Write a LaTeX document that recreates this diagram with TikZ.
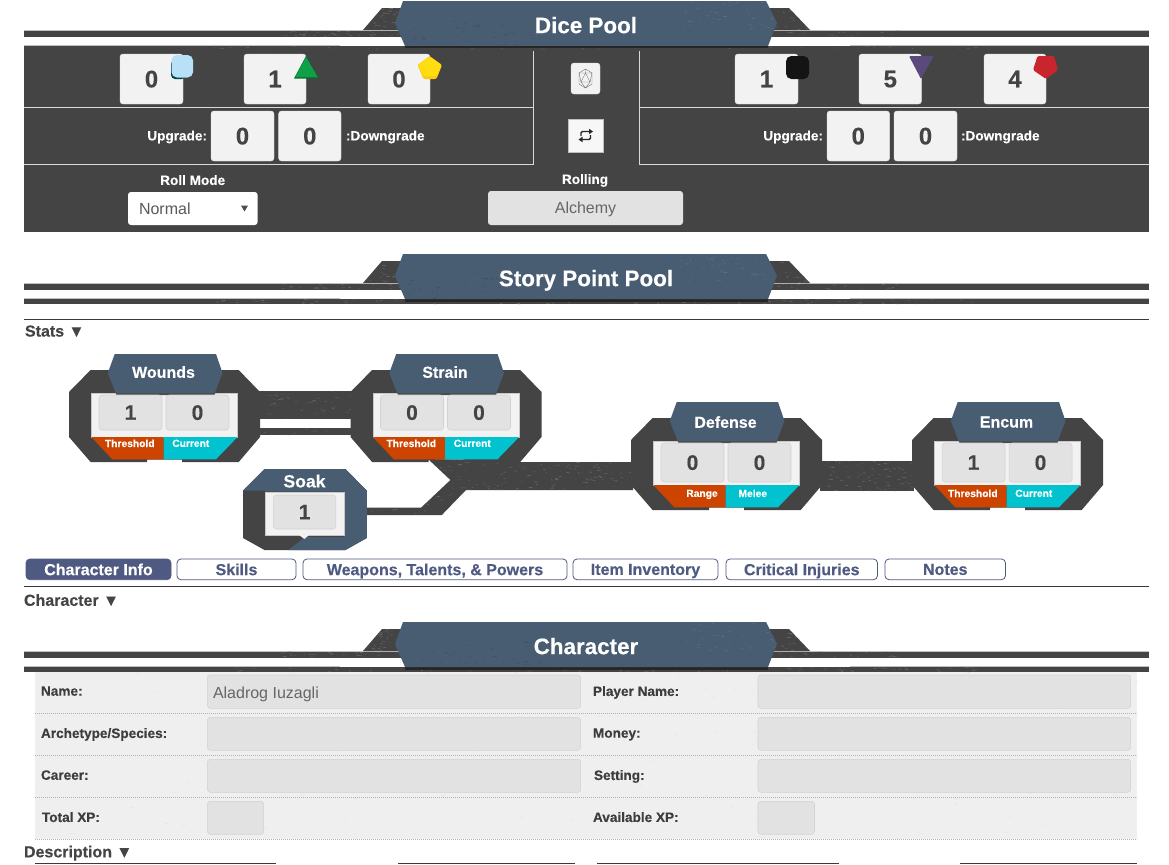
\documentclass[tikz,border=0pt]{standalone}
\usepackage{fontspec}
\setmainfont{Liberation Sans}[BoldFeatures={FakeBold=0.25}]
\definecolor{panel}{HTML}{444444}
\definecolor{slate}{HTML}{485C72}
\definecolor{btn}{HTML}{F2F2F2}
\definecolor{inp}{HTML}{E2E2E2}
\definecolor{inpb}{HTML}{D2D2D2}
\definecolor{rust}{HTML}{CC4400}
\definecolor{teal}{HTML}{00C3CF}
\definecolor{tabc}{HTML}{4F5A82}
\definecolor{txt}{HTML}{444444}
\definecolor{formbg}{HTML}{EFEFEF}
\definecolor{grunge}{HTML}{8E8E8E}
\definecolor{dieblue}{HTML}{B8E0F6}
\definecolor{diegreen}{HTML}{10A048}
\definecolor{dieyellow}{HTML}{FFDD11}
\definecolor{diepurple}{HTML}{5A4A7C}
\definecolor{diered}{HTML}{C9252D}
\usetikzlibrary{calc}
\newcommand{\pxf}[1]{\fontsize{#1}{#1}\selectfont}
\tikzset{
  x=.75pt,y=-.75pt,
  plain/.style={inner sep=0pt,outer sep=0pt,text depth=0pt},
  numbox/.style={plain,rounded corners=2.2pt,fill=btn,draw=btn!92!black,line width=.3pt,text=txt,font=\bfseries\pxf{18}},
  statbox/.style={plain,rounded corners=2.2pt,fill=inp,draw=inpb,line width=.4pt,text=txt,font=\bfseries\pxf{15.75}},
  field/.style={plain,rounded corners=2.2pt,fill=inp,draw=inpb,line width=.4pt},
  tabbox/.style={plain,rounded corners=3pt,draw=tabc,line width=.6pt,fill=white,text=tabc,font=\bfseries\pxf{12}},
  small/.style={plain,text=white,font=\bfseries\pxf{10.2}},
  tiny/.style={plain,text=white,font=\bfseries\pxf{7.7}},
  head/.style={plain,text=white,font=\bfseries\pxf{12}},
  sect/.style={plain,anchor=west,text=txt,font=\bfseries\pxf{12}},
  flabel/.style={plain,anchor=west,text=txt!90!black,font=\bfseries\pxf{10.2}},
  rule/.style={line width=.75pt,draw=panel!85!black},
  dots/.style={line width=.4pt,draw=black!30,dash pattern=on .6pt off .9pt},
}
% rectangle node given by pixel corners
\newcommand{\bx}[7]{\node[#1,minimum width=(#5-#3)*.75pt,minimum height=(#6-#4)*.75pt] (#2) at ({(#3+#5)/2},{(#4+#6)/2}) {#7};}
% random grunge marks
\newcommand{\speckle}[6]{%
  \foreach \i in {1,...,#5}{%
    \pgfmathsetmacro\sx{#1+rnd*(#3-#1)}%
    \pgfmathsetmacro\sy{#2+rnd*(#4-#2)}%
    \pgfmathsetmacro\sl{1+rnd*3}%
    \pgfmathsetmacro\so{.12+rnd*.4}%
    \draw[#6,line width=.5pt,opacity=\so] (\sx,\sy) -- ++(\sl,.6*rnd);
  }}
\newcommand{\banner}[3]{%
\begin{scope}[shift={(0,#1)}]
  \fill[black!25] (24,29.5) rectangle (1149,31);
  \fill[panel] (24,31) rectangle (1149,37);
  \fill[black!25] (24,45) rectangle (1149,46.3);
  \fill[panel] (24,46.3) rectangle (1149,51);
  \fill[panel] (363,30) -- (382,8) -- (789,8) -- (810,30) -- cycle;
  \begin{scope}
    \clip (363,30) -- (382,8) -- (789,8) -- (810,30) -- (900,30) -- (900,37) -- (280,37) -- (280,30) -- cycle;
    \speckle{280}{8}{400}{37}{150}{grunge}
    \speckle{775}{8}{900}{37}{90}{grunge}
  \end{scope}
  \speckle{200}{46}{980}{51}{90}{grunge}
  \fill[white] (340,37) rectangle (850,45.5);
  \fill[black!85] (405,46) rectangle (768,48.5);
  \fill[slate] (403,1) -- (395,23) -- (405,46) -- (768,46) -- (777,23) -- (766,1) -- cycle;
  \begin{scope}
    \clip (403,1) -- (395,23) -- (405,46) -- (768,46) -- (777,23) -- (766,1) -- cycle;
    \speckle{400}{20}{540}{45}{40}{slate!70!black}
    \speckle{680}{2}{775}{30}{50}{slate!75!white}
  \end{scope}
  \node[plain,text=white,font=\bfseries\pxf{16.8}] (#2) at (586,25) {#3};
\end{scope}}
% stat block: #1 name prefix, #2,#3 offset, #4 title, #5,#6 values, #7,#8 captions, #9 x of the first caption
\newcommand{\statdy}{0}
\newcommand{\stat}[9]{%
\begin{scope}[shift={(#2,#3)}]
  \fill[panel,even odd rule] (90.6,370) -- (238.7,370) -- (260,392) -- (260,437) -- (238.7,462) -- (182,462) -- (182,459.5) -- (147,459.5) -- (147,462) -- (90.6,462) -- (69,437) -- (69,392) -- cycle;
  \fill[btn,draw=black!22,line width=.4pt] (91.3,393) rectangle (237.6,437);
  \fill[rust] (91.3,437) -- (163.6,437) -- (163.6,459.3) -- (112.3,459.3) -- cycle;
  \fill[teal] (163.6,437) -- (237.6,437) -- (216,459.3) -- (163.6,459.3) -- cycle;
  \fill[black!70] (110,377) -- (116.5,395) -- (214.5,395) -- (221,377) -- cycle;
  \fill[slate] (114.7,354) -- (216,354) -- (222.5,373) -- (214.6,393) -- (115.7,393) -- (107.8,373) -- cycle;
  \node[head] (#1t) at (163.5,372+\statdy) {#4};
  \bx{statbox}{#1a}{99}{395+\statdy}{162}{430+\statdy}{#5}
  \bx{statbox}{#1b}{166}{395+\statdy}{229}{430+\statdy}{#6}
  \node[tiny] (#1c) at (#9,443.3+\statdy) {#7};
  \node[tiny] (#1d) at (190.8,443.3+\statdy) {#8};
\end{scope}}
\begin{document}
\begin{tikzpicture}
\useasboundingbox (0,0) rectangle (1169,864);
\fill[white] (0,0) rectangle (1169,864);
\pgfmathsetseed{4242}

% ---------- Dice pool
\banner{0}{dicetitle}{Dice Pool}
\fill[panel] (24,46) rectangle (1149,232);
\speckle{200}{46}{980}{49}{40}{grunge}
\draw[white!85!black,line width=.75pt] (24,107) -- (533,107) (533,51) -- (533,164) -- (24,164);
\draw[white!85!black,line width=.75pt] (1149,107) -- (639,107) (639,51) -- (639,164) -- (1149,164);
\fill[black!85] (405,46) rectangle (768,48);

\bx{numbox}{d1}{120}{54}{183}{104}{0}
\bx{numbox}{d2}{244}{54}{306}{104}{1}
\bx{numbox}{d3}{368}{54}{430}{104}{0}
\bx{numbox}{d4}{735}{54}{798}{104}{1}
\bx{numbox}{d5}{859}{54}{921.5}{104}{5}
\bx{numbox}{d6}{984}{54}{1046}{104}{4}
\bx{numbox}{u1}{211}{111}{274}{161}{0}
\bx{numbox}{u2}{278.6}{111}{341}{161}{0}
\bx{numbox}{u3}{827}{111}{889.6}{161}{0}
\bx{numbox}{u4}{894}{111}{957}{161}{0}
\node[small,anchor=east] (ul) at (207,135.5) {Upgrade:};
\node[small,anchor=west] (dl) at (346,135.5) {:Downgrade};
\node[small,anchor=east] (ur) at (823,135.5) {Upgrade:};
\node[small,anchor=west] (dr) at (961,135.5) {:Downgrade};

% dice
\fill[rounded corners=3pt,fill=teal!35!black] (171,60) rectangle (186,79);
\fill[rounded corners=4pt,fill=dieblue] (171.5,55) rectangle (193,77.5);
\fill[diegreen!70!black] (294,78.5) -- (306,56) -- (319,78.5) -- cycle;
\fill[diegreen] (295.5,77) -- (306,57) -- (317.5,77) -- cycle;
\fill[dieyellow!80!orange,rounded corners=1pt] (429.5,56) -- (442,65) -- (436.5,79) -- (423.5,79) -- (417.5,65) -- cycle;
\fill[dieyellow,rounded corners=1pt] (429.5,56.5) -- (441.5,65) -- (436.5,76) -- (423.5,76) -- (418,65) -- cycle;
\fill[black!92,rounded corners=4pt] (786,56) rectangle (809,79);
\fill[diepurple,rounded corners=.8pt] (909,56) -- (933.6,56) -- (921,79) -- cycle;
\fill[diered,rounded corners=1pt] (1037.5,56) -- (1054,56) -- (1058,70) -- (1046,79) -- (1033,70) -- cycle;

% centre buttons
\bx{numbox}{rollbtn}{571}{63}{600}{94}{}
\begin{scope}[line width=.3pt,draw=black!55]
  \draw (585.5,69) -- (592,73) -- (592,84) -- (585.5,88) -- (579,84) -- (579,73) -- cycle;
  \draw (585.5,73) -- (590,82) -- (581,82) -- cycle;
  \draw (585.5,69) -- (585.5,73) (592,73) -- (590,82) (579,73) -- (581,82) (585.5,88) -- (590,82) (585.5,88) -- (581,82) (579,73) -- (585.5,73) -- (592,73);
\end{scope}
\node[plain,fill=white!97!black,draw=black!25,line width=.3pt,minimum width=34.5*.75pt,minimum height=33*.75pt] (swapbtn) at (585.8,135.5) {};
\begin{scope}[line width=1.1pt,draw=black!85]
  \draw[rounded corners=1pt] (581,136) -- (581,131.5) -- (590,131.5);
  \draw[rounded corners=1pt] (590.5,135) -- (590.5,139.5) -- (581.5,139.5);
  \fill[black!85] (589,128.8) -- (593,131.5) -- (589,134.2) -- cycle;
  \fill[black!85] (582.5,136.8) -- (578.5,139.5) -- (582.5,142.2) -- cycle;
\end{scope}

\node[small] (rollmode) at (192.7,180) {Roll Mode};
\bx{plain,rounded corners=2.2pt,fill=white}{rollsel}{128}{192}{257.6}{225}{}
\node[plain,anchor=west,text=black!65,font=\pxf{12}] (normal) at (139,208.5) {Normal};
\fill[black!70] (241,205.5) -- (248,205.5) -- (244.5,211.5) -- cycle;
\node[small] (rolling) at (585,179) {Rolling};
\bx{plain,rounded corners=2.2pt,fill=inp,text=black!60,font=\pxf{12}}{alch}{488}{191}{683}{225}{Alchemy}

% ---------- Story pool
\banner{253}{storytitle}{Story Point Pool}
\draw[rule] (24,319) -- (1149,319);
\node[sect] (stats) at (25,331) {Stats ▼};

% connectors behind the blocks
\fill[panel] (258,391) rectangle (353,419);
\fill[panel] (258,428) rectangle (353,435);
\speckle{262}{391}{350}{419}{45}{grunge}
\speckle{262}{428}{350}{435}{10}{grunge}
\fill[panel] (428,459) -- (519,462) -- (633,462) -- (633,490) -- (466,490) -- (441.8,515) -- (366,515) -- (366,507.7) -- (421,507.7) -- (450.4,480) -- cycle;
\begin{scope}
  \clip (428,459) -- (519,462) -- (633,462) -- (633,490) -- (466,490) -- (441.8,515) -- (366,515) -- (366,507.7) -- (421,507.7) -- (450.4,480) -- cycle;
  \speckle{425}{459}{630}{490}{130}{grunge}
  \speckle{370}{490}{460}{515}{25}{grunge}
\end{scope}
\fill[panel] (820,461) rectangle (914,491);
\speckle{824}{461}{912}{491}{90}{grunge}

\stat{wo}{0}{0}{Wounds}{1}{0}{Threshold}{Current}{129.8}
\stat{st}{281.5}{0}{Strain}{0}{0}{Threshold}{Current}{129.8}
\renewcommand{\statdy}{2}
\stat{de}{562}{48}{Defense}{0}{0}{Range}{Melee}{140}
\stat{en}{843}{48}{Encum}{1}{0}{Threshold}{Current}{129.8}

% soak
\fill[panel] (264.5,469) -- (345.4,469) -- (366.8,490.7) -- (366.8,538) -- (345.4,550) -- (264.5,550) -- (243,538) -- (243,490.7) -- cycle;
\fill[slate] (243,490.7) -- (264.5,469) -- (345.4,469) -- (366.8,490.7) -- (366.8,538) -- (345.4,550) -- (288.6,550) -- (305,537) -- (344,537) -- (344,491.7) -- (265,491.7) -- (265,490.7) -- cycle;
\fill[btn,draw=black!22,line width=.3pt] (265,491.7) rectangle (344.4,535);
\fill[btn] (299,535) -- (309,535) -- (304.4,539) -- cycle;
\node[plain,text=white,font=\bfseries\pxf{13.2}] (soakt) at (304.5,481) {Soak};
\bx{statbox}{soakv}{273.4}{495}{335.8}{529}{1}

% ---------- Tabs
\bx{tabbox,fill=tabc,text=white}{tab1}{26}{559}{171}{579.7}{Character Info}
\bx{tabbox}{tab2}{177}{559}{296}{579.7}{Skills}
\bx{tabbox}{tab3}{303}{559}{567}{579.7}{Weapons, Talents, \& Powers}
\bx{tabbox}{tab4}{573}{559}{718}{579.7}{Item Inventory}
\bx{tabbox}{tab5}{726}{559}{877.5}{579.7}{Critical Injuries}
\bx{tabbox}{tab6}{885}{559}{1005.5}{579.7}{Notes}
\draw[rule] (24,586) -- (1149,586);
\node[sect] (charsec) at (24,600) {Character ▼};

% ---------- Character
\fill[formbg] (35,672) rectangle (1137,839.3);
\speckle{35}{672}{1137}{839}{260}{black!14}
\banner{621}{chartitle}{Character}
\foreach \yy in {713.3,755.3,797.3,839.3}{\draw[dots] (35,\yy) -- (1137,\yy);}

\bx{field}{fname}{207.4}{675}{580.6}{708.3}{}
\node[plain,anchor=west,text=black!60,font=\pxf{12}] (aname) at (213,692.3) {Aladrog Iuzagli};
\bx{field}{farch}{207.4}{717.3}{580.6}{750.3}{}
\bx{field}{fcareer}{207.4}{759.3}{580.6}{792.3}{}
\bx{field}{fxp}{207.4}{801.3}{263.7}{834.3}{}
\bx{field}{fplayer}{758}{675}{1130.7}{708.3}{}
\bx{field}{fmoney}{758}{717.3}{1130.7}{750.3}{}
\bx{field}{fset}{758}{759.3}{1130.7}{792.3}{}
\bx{field}{favail}{758}{801.3}{814.5}{834.3}{}
\node[flabel] (l1) at (41,691) {Name:};
\node[flabel] (l2) at (41,733) {Archetype/Species:};
\node[flabel] (l3) at (41,775) {Career:};
\node[flabel] (l4) at (42,817) {Total XP:};
\node[flabel] (r1) at (593,691) {Player Name:};
\node[flabel] (r2) at (593,733) {Money:};
\node[flabel] (r3) at (594,775) {Setting:};
\node[flabel] (r4) at (593,817) {Available XP:};

\node[sect] (descsec) at (24,851.5) {Description ▼};
\draw[rule] (35,863.3) -- (276,863.3) (398,863.3) -- (575,863.3) (597,863.3) -- (839,863.3) (960,863.3) -- (1137,863.3);
\end{tikzpicture}
\end{document}
